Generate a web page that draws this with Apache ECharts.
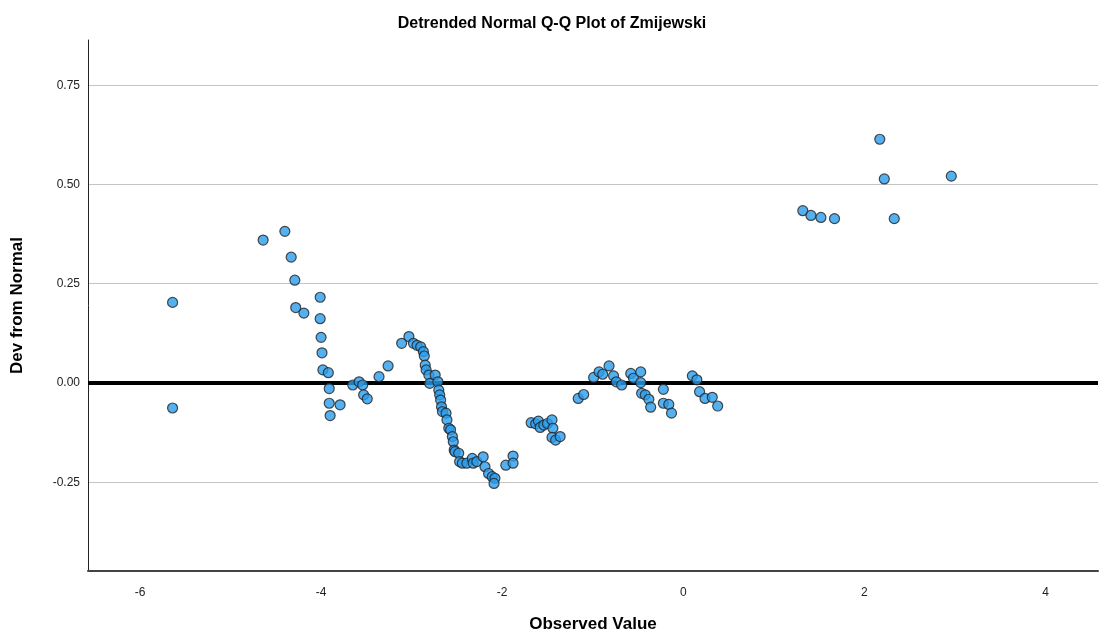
<!DOCTYPE html>
<html>
	<head>
		<meta charset="utf-8">
		<title>Detrended Normal Q-Q Plot of Zmijewski</title>
		<script src="https://cdn.jsdelivr.net/npm/echarts@6/dist/echarts.min.js"></script>
		<style>
			html,body{margin:0;padding:0;background:#fff;}
			#x{width:1104px;height:637px;}
		</style>
	</head>
	<body>
		<div id="x"></div>
	</body>

	<script type="text/javascript">
		var obsX = [
			-5.64,-5.64,-4.64,-4.40,-4.33,-4.29,-4.28,-4.19,-4.01,-4.01,-4.00,-3.99,-3.98,-3.92,-3.91,-3.91,-3.90,-3.79,
			-3.65,-3.58,-3.54,-3.53,-3.49,-3.36,-3.26,
			-3.11,-3.03,-2.98,-2.94,-2.90,-2.87,-2.86,-2.85,-2.84,-2.81,-2.80,-2.74,-2.71,-2.70,-2.69,-2.68,-2.67,-2.66,
			-2.62,-2.61,-2.59,-2.57,-2.55,-2.54,-2.53,-2.52,-2.48,-2.47,-2.44,-2.39,-2.33,-2.32,-2.28,-2.21,-2.19,-2.15,
			-2.11,-2.08,-2.09,
			-1.96,-1.88,-1.88,
			-1.68,-1.63,-1.60,-1.58,-1.54,-1.50,-1.45,-1.44,-1.45,-1.41,-1.36,
			-1.16,-1.10,-0.99,-0.93,-0.89,-0.82,-0.77,-0.74,-0.68,-0.58,-0.55,-0.47,-0.47,-0.46,-0.42,-0.38,-0.36,
			-0.22,-0.22,-0.16,-0.13,
			0.10,0.15,0.18,0.24,0.32,0.38,
			1.32,1.41,1.52,1.67,2.17,2.22,2.33,2.96
		];
		var devY = [
			0.203,-0.063,0.360,0.382,0.317,0.259,0.190,0.176,0.216,0.162,0.115,0.076,0.033,0.026,-0.014,-0.051,-0.082,-0.055,
			-0.005,0.003,-0.005,-0.030,-0.040,0.016,0.043,
			0.100,0.117,0.100,0.095,0.091,0.079,0.068,0.045,0.033,0.020,-0.001,0.020,0.003,-0.018,-0.030,-0.043,-0.060,-0.072,
			-0.076,-0.093,-0.114,-0.118,-0.135,-0.148,-0.169,-0.173,-0.177,-0.198,-0.202,-0.202,-0.190,-0.202,-0.198,-0.186,-0.211,-0.228,
			-0.236,-0.240,-0.253,
			-0.207,-0.184,-0.202,
			-0.100,-0.103,-0.096,-0.112,-0.106,-0.102,-0.093,-0.114,-0.137,-0.144,-0.135,
			-0.039,-0.029,0.014,0.028,0.022,0.043,0.018,0.003,-0.005,0.024,0.012,0.028,0.001,-0.026,-0.030,-0.041,-0.061,
			-0.016,-0.051,-0.054,-0.076,
			0.018,0.008,-0.022,-0.039,-0.036,-0.058,
			0.434,0.422,0.417,0.414,0.614,0.514,0.414,0.521
		];
		var xTicks = [-6,-4,-2,0,2,4];
		var yTicks = [-0.25,0,0.25,0.5,0.75];

		var pts = [];
		for (var i = 0; i < obsX.length; i++) {
			pts.push([obsX[i], devY[i]]);
		}

		var font = '"Liberation Sans", Arial, sans-serif';
		option = {
			backgroundColor: '#fff',
			animation: false,
			title: {
				text: 'Detrended Normal Q-Q Plot of Zmijewski',
				left: 'center',
				top: 11,
				textStyle: { fontFamily: font, fontSize: 16, fontWeight: 'bold', color: '#000' }
			},
			grid: { left: 88, right: 6, top: 40, bottom: 66, outerBoundsMode: 'none', containLabel: false },
			xAxis: {
				type: 'value',
				min: -6.574,
				max: 4.58,
				name: 'Observed Value',
				nameLocation: 'middle',
				nameGap: 45,
				nameTextStyle: { fontFamily: font, fontSize: 17, fontWeight: 'bold', color: '#000' },
				axisLine: { show: true, onZero: false, lineStyle: { color: '#444', width: 2 } },
				axisTick: { show: false, customValues: xTicks },
				splitLine: { show: false },
				axisLabel: {
					customValues: xTicks,
					margin: 16,
					fontFamily: font, fontSize: 12, color: '#222',
					formatter: function (v) { return String(v); }
				}
			},
			yAxis: {
				type: 'value',
				min: -0.4736,
				max: 0.864,
				name: 'Dev from Normal',
				nameLocation: 'middle',
				nameGap: 62,
				nameTextStyle: { fontFamily: font, fontSize: 17, fontWeight: 'bold', color: '#000' },
				axisLine: { show: true, onZero: false, lineStyle: { color: '#222', width: 1 } },
				axisTick: { show: false, customValues: yTicks },
				splitLine: { show: true, lineStyle: { color: '#c4c4c4', width: 1 } },
				axisLabel: {
					customValues: yTicks,
					margin: 8,
					fontFamily: font, fontSize: 12, color: '#222',
					formatter: function (v) { return v.toFixed(2); }
				}
			},
			series: [{
				type: 'scatter',
				symbol: 'circle',
				symbolSize: 10,
				itemStyle: { color: '#2a9cec', borderColor: '#222', borderWidth: 1.2 },
				data: pts,
				markLine: {
					silent: true,
					symbol: 'none',
					label: { show: false },
					lineStyle: { color: '#000', width: 4, type: 'solid' },
					data: [{ yAxis: 0 }],
					z: 1
				}
			}]
		};

		var mychart = echarts.init(document.getElementById('x'));
		mychart.setOption(option);
	</script>
</html>
